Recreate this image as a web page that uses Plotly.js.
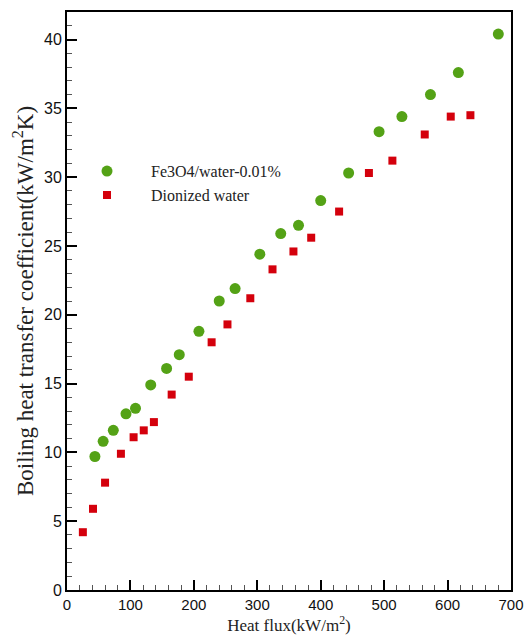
<!DOCTYPE html>
<html>
<head>
<meta charset="utf-8">
<script src="https://cdn.plot.ly/plotly-3.0.1.min.js"></script>
<style>html,body{margin:0;padding:0;background:#fff;}#chart{width:528px;height:639px;}</style>
</head>
<body>
<div id="chart"></div>
<script>
var feHeatFlux = [44, 57, 73, 93, 108, 132, 157, 177, 208, 240, 265, 304, 337, 365, 400, 444, 492, 528, 573, 617, 680];
var feHTC = [9.7, 10.8, 11.6, 12.8, 13.2, 14.9, 16.1, 17.1, 18.8, 21.0, 21.9, 24.4, 25.9, 26.5, 28.3, 30.3, 33.3, 34.4, 36.0, 37.6, 40.4];
var dwHeatFlux = [25, 41, 60, 85, 105, 121, 137, 165, 192, 228, 253, 289, 324, 357, 385, 429, 476, 513, 564, 605, 636];
var dwHTC = [4.2, 5.9, 7.8, 9.9, 11.1, 11.6, 12.2, 14.2, 15.5, 18.0, 19.3, 21.2, 23.3, 24.6, 25.6, 27.5, 30.3, 31.2, 33.1, 34.4, 34.5];
var seriesNames = ["Fe3O4/water-0.01%", "Dionized water"];

var traces = [
  {x: feHeatFlux, y: feHTC, name: seriesNames[0], type: 'scatter', mode: 'markers',
   marker: {symbol: 'circle', size: 11, color: 'rgb(84,162,22)'}},
  {x: dwHeatFlux, y: dwHTC, name: seriesNames[1], type: 'scatter', mode: 'markers',
   marker: {symbol: 'square', size: 8, color: 'rgb(212,0,12)'}}
];

var layout = {
  width: 528, height: 639,
  margin: {l: 67, r: 17, t: 12, b: 49},
  paper_bgcolor: '#fff', plot_bgcolor: '#fff',
  showlegend: true,
  legend: {x: -0.009, xanchor: 'left', y: 0.754, yanchor: 'top', bgcolor: 'rgba(0,0,0,0)',
           itemwidth: 78, font: {family: 'Liberation Serif', size: 16, color: '#222'}},
  xaxis: {
    range: [0, 700], dtick: 100, tick0: 0, showgrid: false, zeroline: false,
    showline: true, linecolor: '#000', linewidth: 2, mirror: true,
    ticks: 'inside', ticklen: 10, tickwidth: 2, tickcolor: '#000',
    minor: {dtick: 20, ticks: 'inside', ticklen: 5, tickwidth: 1, tickcolor: '#555', showgrid: false},
    tickfont: {family: 'Liberation Sans', size: 15, color: '#111'},
    title: {text: 'Heat flux(kW/m<sup>2</sup>)', font: {family: 'Liberation Serif', size: 17, color: '#222'}, standoff: 0}
  },
  yaxis: {
    range: [0, 42], dtick: 5, tick0: 0, showgrid: false, zeroline: false,
    showline: true, linecolor: '#000', linewidth: 2, mirror: true,
    ticks: 'inside', ticklen: 10, tickwidth: 2, tickcolor: '#000',
    minor: {dtick: 1, ticks: 'inside', ticklen: 5, tickwidth: 1, tickcolor: '#555', showgrid: false},
    tickfont: {family: 'Liberation Sans', size: 16, color: '#111'},
    title: {text: 'Boiling heat transfer coefficient(kW/m<sup>2</sup>K)', font: {family: 'Liberation Serif', size: 23, color: '#222'}, standoff: 4}
  }
};

Plotly.newPlot('chart', traces, layout, {displayModeBar: false, staticPlot: true});
</script>
</body>
</html>
